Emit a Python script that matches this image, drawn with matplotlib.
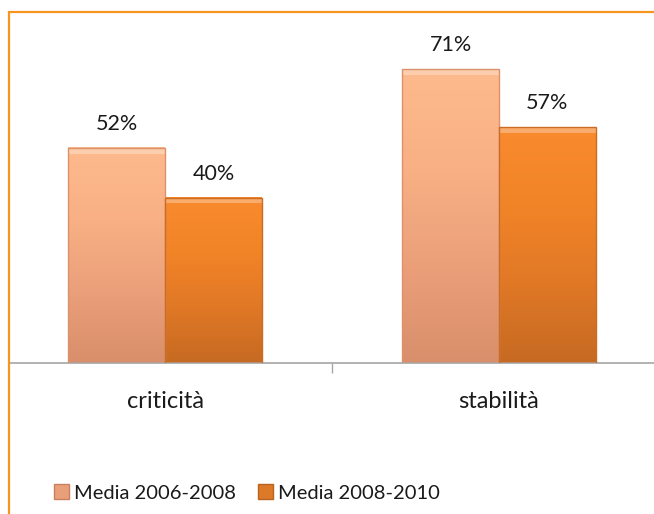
import numpy as np
import matplotlib
matplotlib.use('Agg')
import matplotlib.pyplot as plt
from matplotlib.colors import LinearSegmentedColormap
from matplotlib.patches import Rectangle, Patch
import matplotlib.transforms as mtransforms

# data
categories = ['criticità', 'stabilità']
series_names = ['Media 2006-2008', 'Media 2008-2010']
media_0608 = [0.52, 0.71]
media_0810 = [0.40, 0.57]

plt.rcParams['font.family'] = ['Lato', 'DejaVu Sans']

W, H = 654, 514
fig = plt.figure(figsize=(W / 100, H / 100), dpi=100)

# orange frame of the chart area (runs off the right and bottom edges)
frame = Rectangle((9 / W, -0.1), 1.2, (H - 12) / H + 0.1, transform=fig.transFigure,
                  fill=False, edgecolor='#F7961E', linewidth=1.6, clip_on=False)
fig.patches.append(frame)

ax = fig.add_axes([9 / W, (H - 363) / H, 1 - 9 / W, 331 / H])

light_cmap = LinearSegmentedColormap.from_list('light', ['#FDBA8C', '#F8B084', '#EBA07A', '#D98F6B'])
dark_cmap = LinearSegmentedColormap.from_list('dark', ['#F98A2E', '#F28428', '#E07826', '#C66A22'])

x = np.arange(len(categories))
width = 0.29
offsets = [-width / 2, width / 2]

for vals, off, cmap, name in zip([media_0608, media_0810], offsets,
                                 [light_cmap, dark_cmap], series_names):
    bars = ax.bar(x + off, vals, width, color='none', edgecolor='none', label=name, zorder=2)
    for b, v in zip(bars, vals):
        x0 = b.get_x()
        grad = np.linspace(0, 1, 100).reshape(-1, 1)
        ax.imshow(grad, extent=[x0, x0 + width, 0, v], aspect='auto', cmap=cmap,
                  origin='upper', zorder=2)
        # light bevel on the top edge, darker sides
        ax.add_patch(Rectangle((x0, v - 0.014), width, 0.014, facecolor='white',
                               alpha=0.3, edgecolor='none', zorder=3))
        ax.add_patch(Rectangle((x0, 0), width, v, facecolor='none',
                               edgecolor=cmap(0.95), linewidth=1.0, zorder=3))
        ax.annotate(f'{v * 100:.0f}%', (x0 + width / 2, v), xytext=(0, 10),
                    textcoords='offset points', ha='center', va='bottom',
                    fontsize=15.5, color='#1A1A1A')

ax.set_xlim((9 - 165) / 334, (654 - 165) / 334)
ax.set_ylim(0, 0.8)

for s in ['top', 'left', 'right']:
    ax.spines[s].set_visible(False)
ax.spines['bottom'].set_color('#A6A6A6')
ax.spines['bottom'].set_linewidth(1.2)
ax.set_yticks([])
ax.set_xticks([0.5])
ax.set_xticklabels([])
ax.tick_params(axis='x', direction='out', length=7, color='#A6A6A6', width=1)

trans = mtransforms.blended_transform_factory(ax.transData, fig.transFigure)
for xi, c in zip(x, categories):
    ax.text(xi, (H - 401) / H, c, transform=trans, ha='center', va='center',
            fontsize=17, color='#1A1A1A')

handles = [Patch(facecolor='#E9A07A', edgecolor='#C98060'),
           Patch(facecolor='#DD7A2A', edgecolor='#B8641E')]
fig.legend(handles, series_names, loc='center', bbox_to_anchor=(247 / W, (H - 493) / H),
           ncol=2, frameon=False, fontsize=14.5, handlelength=0.75, handleheight=0.75,
           handletextpad=0.25, columnspacing=1.1, labelcolor='#1A1A1A')

fig.savefig('out.png', dpi=100)
